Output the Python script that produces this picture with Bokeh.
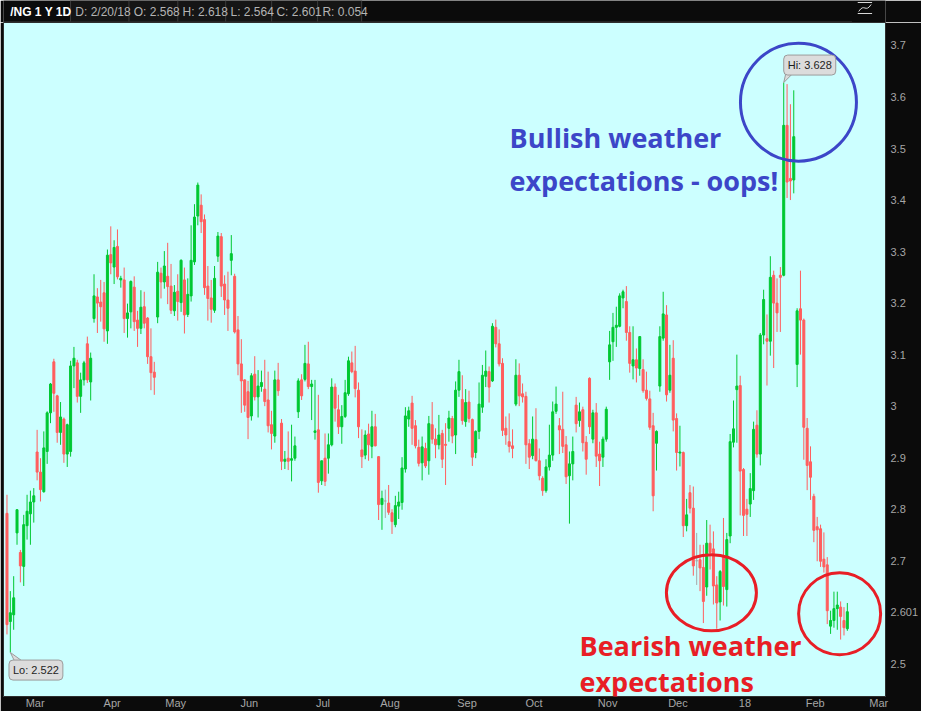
from bokeh.plotting import figure
from bokeh.layouts import column
from bokeh.models import ColumnDataSource, Range1d, FixedTicker, Label, NumeralTickFormatter
from bokeh.core.properties import value
from bokeh.embed import file_html
from bokeh.resources import INLINE

# ---------------- data (daily OHLC, /NG 1Y 1D) ----------------
opens = [
    2.792, 2.582, 2.595, 2.754, 2.716, 2.689, 2.768, 2.791, 2.814, 2.911,
    2.872, 2.834, 2.912, 2.987, 3.086, 3.020, 2.949, 2.975, 2.907, 2.912,
    3.078, 3.084, 3.019, 3.051, 3.121, 3.047, 3.170, 3.212, 3.202, 3.220,
    3.146, 3.294, 3.270, 3.310, 3.245, 3.245, 3.170, 3.183, 3.231, 3.167,
    3.151, 3.193, 3.171, 3.096, 3.066, 3.173, 3.258, 3.241, 3.252, 3.233,
    3.185, 3.223, 3.201, 3.245, 3.178, 3.214, 3.280, 3.369, 3.390, 3.362,
    3.233, 3.210, 3.186, 3.291, 3.329, 3.237, 3.206, 3.283, 3.252, 3.148,
    3.082, 3.051, 3.028, 2.981, 3.062, 3.018, 3.038, 3.033, 3.012, 2.964,
    2.942, 3.051, 2.967, 2.893, 2.899, 2.895, 2.899, 2.989, 3.051, 3.052,
    3.082, 3.038, 2.949, 2.954, 2.855, 2.899, 2.899, 2.925, 3.037, 2.993,
    2.960, 2.980, 3.024, 3.084, 3.068, 3.031, 2.915, 2.905, 2.946, 2.922,
    2.960, 2.902, 2.809, 2.816, 2.812, 2.793, 2.770, 2.806, 2.813, 2.878,
    2.975, 3.006, 2.962, 2.920, 2.890, 2.918, 2.894, 2.964, 2.936, 2.925,
    2.947, 2.926, 2.957, 2.976, 2.944, 3.031, 3.013, 2.970, 3.008, 2.974,
    2.910, 2.951, 2.998, 3.058, 3.067, 3.049, 3.153, 3.121, 3.083, 2.957,
    2.931, 2.923, 3.004, 3.060, 3.024, 3.019, 2.927, 2.904, 2.935, 2.894,
    2.860, 2.836, 2.882, 2.905, 2.990, 2.962, 2.955, 2.925, 2.865, 2.888,
    3.002, 2.972, 2.993, 2.930, 3.054, 2.936, 2.987, 2.907, 2.901, 2.936,
    3.086, 3.125, 3.153, 3.155, 3.210, 3.203, 3.143, 3.078, 3.090, 3.073,
    3.071, 3.031, 3.014, 2.962, 2.928, 3.039, 3.132, 3.177, 3.031, 3.093,
    2.976, 2.909, 2.910, 2.768, 2.832, 2.802, 2.700, 2.702, 2.687, 2.649,
    2.734, 2.723, 2.653, 2.620, 2.707, 2.644, 2.748, 2.930, 3.032, 3.040,
    2.877, 2.800, 2.810, 2.836, 2.963, 2.907, 3.138, 3.131, 3.126, 3.254,
    3.200, 3.254, 3.254, 3.545, 3.442, 3.439, 3.081, 3.189, 3.167, 2.957,
    2.892, 2.825, 2.766, 2.762, 2.703, 2.692, 2.573, 2.584, 2.607, 2.610,
    2.584, 2.568,
]
highs = [
    2.828, 2.641, 2.670, 2.800, 2.721, 2.789, 2.828, 2.836, 2.841, 2.954,
    2.899, 2.951, 2.990, 3.045, 3.092, 3.022, 3.008, 2.978, 2.966, 3.088,
    3.115, 3.090, 3.065, 3.088, 3.135, 3.104, 3.256, 3.229, 3.245, 3.241,
    3.304, 3.349, 3.322, 3.343, 3.253, 3.269, 3.199, 3.244, 3.252, 3.185,
    3.225, 3.222, 3.173, 3.151, 3.086, 3.280, 3.269, 3.301, 3.317, 3.276,
    3.235, 3.256, 3.285, 3.269, 3.248, 3.351, 3.392, 3.434, 3.411, 3.372,
    3.272, 3.245, 3.272, 3.338, 3.336, 3.254, 3.261, 3.332, 3.257, 3.175,
    3.130, 3.052, 3.049, 3.064, 3.097, 3.070, 3.069, 3.090, 3.067, 2.991,
    3.069, 3.084, 2.975, 2.913, 2.951, 2.964, 2.941, 3.054, 3.062, 3.119,
    3.125, 3.051, 3.051, 3.022, 2.894, 2.947, 2.947, 3.054, 3.044, 3.022,
    3.002, 3.051, 3.096, 3.106, 3.117, 3.046, 2.955, 2.953, 2.966, 2.991,
    2.985, 2.903, 2.836, 2.838, 2.847, 2.800, 2.826, 2.834, 2.901, 2.998,
    2.999, 3.020, 2.973, 2.935, 2.941, 2.929, 2.981, 3.008, 2.957, 2.983,
    2.954, 2.967, 2.991, 2.981, 3.048, 3.090, 3.060, 3.033, 3.030, 2.976,
    2.953, 3.046, 3.080, 3.108, 3.077, 3.161, 3.168, 3.149, 3.093, 2.980,
    2.986, 2.955, 3.091, 3.083, 3.044, 3.028, 2.936, 2.980, 2.996, 2.918,
    2.864, 2.897, 2.964, 3.009, 3.038, 2.977, 3.028, 2.942, 2.912, 2.941,
    3.018, 3.007, 2.999, 2.942, 3.056, 2.993, 3.006, 2.931, 2.941, 2.999,
    3.146, 3.181, 3.193, 3.219, 3.226, 3.233, 3.155, 3.155, 3.112, 3.136,
    3.091, 3.067, 3.030, 2.987, 2.953, 3.155, 3.222, 3.196, 3.119, 3.128,
    2.986, 2.962, 2.912, 2.820, 2.847, 2.844, 2.754, 2.731, 2.731, 2.779,
    2.770, 2.757, 2.670, 2.682, 2.783, 2.754, 2.946, 3.011, 3.100, 3.059,
    2.880, 2.820, 2.870, 2.970, 2.992, 3.142, 3.226, 3.178, 3.291, 3.263,
    3.248, 3.270, 3.628, 3.625, 3.586, 3.613, 3.190, 3.263, 3.170, 2.977,
    2.922, 2.830, 2.785, 2.770, 2.755, 2.707, 2.603, 2.640, 2.640, 2.621,
    2.610, 2.618,
]
lows = [
    2.557, 2.522, 2.566, 2.731, 2.658, 2.651, 2.741, 2.731, 2.774, 2.856,
    2.815, 2.832, 2.888, 2.967, 2.989, 2.929, 2.925, 2.890, 2.882, 2.902,
    3.035, 3.007, 2.987, 3.040, 3.045, 3.011, 3.162, 3.142, 3.164, 3.125,
    3.121, 3.256, 3.237, 3.246, 3.230, 3.142, 3.133, 3.151, 3.146, 3.115,
    3.140, 3.151, 3.082, 3.031, 3.022, 3.161, 3.209, 3.228, 3.198, 3.179,
    3.175, 3.166, 3.183, 3.141, 3.173, 3.203, 3.274, 3.351, 3.336, 3.216,
    3.166, 3.162, 3.181, 3.280, 3.212, 3.177, 3.146, 3.254, 3.141, 3.060,
    2.987, 2.989, 2.936, 2.972, 3.011, 2.978, 3.028, 3.000, 2.949, 2.916,
    2.929, 3.020, 2.876, 2.878, 2.876, 2.854, 2.894, 2.977, 3.012, 3.048,
    3.033, 2.973, 2.935, 2.832, 2.847, 2.845, 2.869, 2.922, 2.970, 2.946,
    2.927, 2.977, 3.020, 3.064, 3.017, 2.938, 2.880, 2.897, 2.894, 2.899,
    2.922, 2.779, 2.760, 2.783, 2.789, 2.752, 2.765, 2.781, 2.799, 2.871,
    2.960, 2.925, 2.918, 2.883, 2.856, 2.880, 2.867, 2.927, 2.899, 2.916,
    2.880, 2.847, 2.931, 2.928, 2.907, 3.018, 2.964, 2.960, 2.968, 2.884,
    2.899, 2.936, 2.987, 3.037, 3.007, 3.047, 3.114, 3.077, 2.942, 2.925,
    2.910, 2.899, 3.000, 3.000, 3.007, 2.888, 2.878, 2.897, 2.893, 2.856,
    2.826, 2.832, 2.875, 2.894, 2.985, 2.907, 2.909, 2.849, 2.772, 2.856,
    2.949, 2.960, 2.912, 2.867, 2.946, 2.928, 2.882, 2.845, 2.882, 2.931,
    3.051, 3.088, 3.115, 3.153, 3.190, 3.127, 3.065, 3.052, 3.046, 3.059,
    3.026, 3.011, 2.954, 2.796, 2.875, 3.028, 3.127, 3.009, 3.026, 2.951,
    2.875, 2.883, 2.746, 2.757, 2.792, 2.671, 2.653, 2.641, 2.579, 2.632,
    2.683, 2.615, 2.568, 2.584, 2.613, 2.611, 2.734, 2.920, 2.929, 2.788,
    2.748, 2.748, 2.785, 2.818, 2.900, 2.885, 3.120, 3.040, 3.098, 3.074,
    3.144, 3.144, 3.252, 3.404, 3.400, 3.413, 3.037, 3.100, 2.896, 2.837,
    2.818, 2.736, 2.699, 2.688, 2.677, 2.577, 2.558, 2.570, 2.566, 2.547,
    2.555, 2.564,
]
closes = [
    2.576, 2.599, 2.628, 2.799, 2.690, 2.770, 2.796, 2.814, 2.826, 2.872,
    2.838, 2.919, 2.987, 3.043, 3.025, 2.949, 2.979, 2.907, 2.964, 3.078,
    3.093, 3.019, 3.051, 3.084, 3.051, 3.093, 3.214, 3.200, 3.193, 3.150,
    3.293, 3.278, 3.308, 3.251, 3.248, 3.170, 3.181, 3.242, 3.164, 3.151,
    3.192, 3.161, 3.096, 3.065, 3.056, 3.260, 3.241, 3.272, 3.232, 3.186,
    3.221, 3.203, 3.283, 3.177, 3.217, 3.283, 3.367, 3.429, 3.358, 3.230,
    3.209, 3.188, 3.248, 3.330, 3.233, 3.206, 3.190, 3.296, 3.144, 3.082,
    3.049, 3.002, 2.978, 3.059, 3.018, 3.039, 3.046, 3.009, 2.962, 2.947,
    3.051, 3.030, 2.893, 2.897, 2.893, 2.898, 2.923, 3.049, 3.020, 3.083,
    3.038, 3.043, 2.952, 2.852, 2.894, 2.854, 2.925, 3.037, 2.996, 2.960,
    2.980, 3.026, 3.088, 3.067, 3.034, 2.960, 2.902, 2.944, 2.925, 2.960,
    2.923, 2.809, 2.821, 2.816, 2.794, 2.776, 2.807, 2.814, 2.880, 2.981,
    2.991, 2.957, 2.923, 2.889, 2.921, 2.884, 2.966, 2.936, 2.925, 2.944,
    2.897, 2.924, 2.977, 2.942, 3.031, 3.067, 2.972, 3.007, 2.976, 2.901,
    2.951, 3.004, 3.060, 3.068, 3.037, 3.155, 3.121, 3.082, 2.953, 2.944,
    2.922, 2.918, 3.060, 3.020, 3.018, 2.925, 2.901, 2.936, 2.894, 2.865,
    2.836, 2.882, 2.905, 2.989, 3.004, 2.954, 2.922, 2.863, 2.888, 2.912,
    2.966, 2.989, 2.929, 2.897, 2.960, 2.987, 2.903, 2.894, 2.936, 2.994,
    3.119, 3.153, 3.157, 3.214, 3.222, 3.143, 3.083, 3.090, 3.074, 3.135,
    3.030, 3.015, 2.959, 2.826, 2.951, 3.135, 3.179, 3.022, 3.060, 2.973,
    2.910, 2.911, 2.768, 2.789, 2.802, 2.690, 2.700, 2.686, 2.621, 2.734,
    2.716, 2.651, 2.618, 2.679, 2.650, 2.741, 2.931, 2.956, 3.039, 2.874,
    2.788, 2.790, 2.840, 2.955, 2.907, 3.138, 3.207, 3.126, 3.250, 3.200,
    3.181, 3.250, 3.545, 3.435, 3.437, 3.523, 3.185, 3.167, 2.959, 2.885,
    2.862, 2.759, 2.760, 2.699, 2.688, 2.603, 2.584, 2.607, 2.614, 2.592,
    2.570, 2.601,
]

# month tick labels (bar index of first session of each month)
month_tick_idx = [6, 29, 48, 70, 92, 112, 135, 155, 177, 198, 218, 239, 258]
month_tick_labels = ["Mar", "Apr", "May", "Jun", "Jul", "Aug", "Sep", "Oct",
                     "Nov", "Dec", "18", "Feb", "Mar"]
price_ticks = [2.5, 2.601, 2.7, 2.8, 2.9, 3.0, 3.1, 3.2, 3.3, 3.4, 3.5, 3.6, 3.7]

header_symbol = "/NG 1 Y 1D"
header_items = ["D: 2/20/18", "O: 2.568", "H: 2.618", "L: 2.564", "C: 2.601", "R: 0.054"]
hi_text = "Hi: 3.628"
lo_text = "Lo: 2.522"
last_text = "2.601"

# ---------------- styling ----------------
UP = "#00C832"
DOWN = "#FF5E5E"
DOJI = "#A8A8A8"
BLUE = "#3C46C8"
RED = "#E81E26"
AXIS_TXT = "#A6A6A6"
BG = "#0B0B0B"
W = 921

# ---------------- header strip ----------------
hdr = figure(width=W, height=22, output_backend="svg", toolbar_location=None,
             x_range=Range1d(0, W), y_range=Range1d(22, 0),
             x_axis_location=None, y_axis_location=None,
             min_border=0, min_border_left=0, min_border_right=0,
             min_border_top=0, min_border_bottom=0,
             background_fill_color=BG, border_fill_color=BG)
hdr.grid.visible = False
hdr.outline_line_color = None
sep_x = [70, 131, 182, 232, 280, 328, 374]
hdr.quad(left=[70], right=[374], top=[0], bottom=[21], fill_color="#151515", line_color=None)
hdr.segment(x0=sep_x, y0=[0] * len(sep_x), x1=sep_x, y1=[21] * len(sep_x),
            line_color="#3C3C3C", line_width=1)
hdr.segment(x0=[0], y0=[21.5], x1=[886], y1=[21.5], line_color="#3C3C3C", line_width=1)
hdr.text(x=[7], y=[11.5], text=[header_symbol], text_font=value("Liberation Sans"),
         text_font_style="bold", text_font_size="12px", text_color="#FFFFFF",
         text_baseline="middle")
hdr.text(x=[75, 136, 187, 237, 285, 333], y=[11.5] * 6, text=header_items,
         text_font=value("Liberation Sans"), text_font_size="12px",
         text_color="#B4B4B4", text_baseline="middle")
# small chart-style icon at top right
hdr.segment(x0=[892, 892], y0=[2, 13], x1=[907, 907], y1=[2, 13], line_color="#D8D8D8", line_width=1)
hdr.bezier(x0=[893], y0=[11], x1=[906], y1=[4], cx0=[899], cy0=[2], cx1=[900], cy1=[13],
           line_color="#D8D8D8", line_width=1)

# ---------------- main chart ----------------
n = len(closes)
xs = list(range(n))
colors, tops, bottoms = [], [], []
for o, c in zip(opens, closes):
    if abs(c - o) < 0.001:
        colors.append(DOJI)
    elif c > o:
        colors.append(UP)
    else:
        colors.append(DOWN)
    tops.append(max(o, c))
    bottoms.append(min(o, c))

src = ColumnDataSource(dict(x=xs, o=opens, h=highs, l=lows, c=closes,
                            top=tops, bottom=bottoms, color=colors))

p = figure(width=W, height=689, output_backend="svg", toolbar_location=None,
           x_range=Range1d(-1.04, 262.4), y_range=Range1d(2.4365, 3.7446),
           y_axis_location="right",
           background_fill_color="#CCFFFF", border_fill_color=BG,
           min_border_left=3, min_border_right=35, min_border_top=0,
           min_border_bottom=13)
p.grid.visible = False
p.outline_line_color = "#2E2E2E"
p.outline_line_width = 1

p.segment(x0="x", y0="h", x1="x", y1="l", line_color="color", line_width=1, source=src)
p.vbar(x="x", width=0.6, top="top", bottom="bottom", fill_color="color",
       line_color="color", line_width=1, source=src)

# x axis (labels sit just right of the first session of the month)
xt = [i + 2.4 for i in month_tick_idx]
xa = p.xaxis[0]
xa.ticker = FixedTicker(ticks=xt)
xa.major_label_overrides = {t: s for t, s in zip(xt, month_tick_labels)}
xa.axis_line_color = None
xa.major_tick_line_color = None
xa.minor_tick_line_color = None
xa.major_tick_out = 0
xa.major_tick_in = 0
xa.minor_tick_out = 0
xa.minor_tick_in = 0
xa.major_label_text_color = AXIS_TXT
xa.major_label_text_font = "Liberation Sans"
xa.major_label_text_font_size = "11px"
xa.major_label_standoff = 0

# y axis
ya = p.yaxis[0]
ya.ticker = FixedTicker(ticks=price_ticks)
ya.formatter = NumeralTickFormatter(format="0.[0]")
ya.major_label_overrides = {2.601: last_text}
ya.axis_line_color = None
ya.major_tick_line_color = None
ya.minor_tick_line_color = None
ya.major_tick_out = 0
ya.major_tick_in = 0
ya.minor_tick_out = 0
ya.minor_tick_in = 0
ya.major_label_text_color = AXIS_TXT
ya.major_label_text_font = "Liberation Sans"
ya.major_label_text_font_size = "11px"
ya.major_label_standoff = 5

# circles
p.ellipse(x=[236.4], y=[3.590], width=116, height=118, width_units="screen",
          height_units="screen", fill_color=None, line_color=BLUE, line_width=3)
p.ellipse(x=[210.4], y=[2.638], width=90, height=76, width_units="screen",
          height_units="screen", fill_color=None, line_color=RED, line_width=3)
p.ellipse(x=[248.7], y=[2.597], width=82, height=82, width_units="screen",
          height_units="screen", fill_color=None, line_color=RED, line_width=3)

# annotation texts
for t, y in [("Bullish weather", 3.522), ("expectations - oops!", 3.438)]:
    p.add_layout(Label(x=150.1, y=y, text=t, text_font="Open Sans",
                       text_font_style="bold", text_font_size="27px",
                       text_color=BLUE, text_baseline="middle"))
for t, y in [("Bearish weather", 2.5353), ("expectations", 2.4655)]:
    p.add_layout(Label(x=171.0, y=y, text=t, text_font="Open Sans",
                       text_font_style="bold", text_font_size="27px",
                       text_color=RED, text_baseline="middle"))

# Hi / Lo callouts
p.patch(x=[232.0, 232.6, 234.6], y=[highs[232], 3.645, 3.645],
        fill_color="#DCDCDC", line_color="#9B9B9B", line_width=1)
p.add_layout(Label(x=232.0, y=3.662, text=hi_text, text_font="Liberation Sans",
                   text_font_size="11px", text_color="#1E1E1E", text_baseline="middle",
                   background_fill_color="#DCDCDC", border_line_color="#9B9B9B",
                   border_radius=4, padding=4))
p.patch(x=[1.0, 2.2, 4.4], y=[lows[1], 2.506, 2.506],
        fill_color="#DCDCDC", line_color="#9B9B9B", line_width=1)
p.add_layout(Label(x=0.6, y=2.4878, text=lo_text, text_font="Liberation Sans",
                   text_font_size="11px", text_color="#1E1E1E", text_baseline="middle",
                   background_fill_color="#DCDCDC", border_line_color="#9B9B9B",
                   border_radius=4, padding=4))

layout = column(hdr, p, spacing=0)
open("out.html", "w").write(file_html(layout, INLINE))
